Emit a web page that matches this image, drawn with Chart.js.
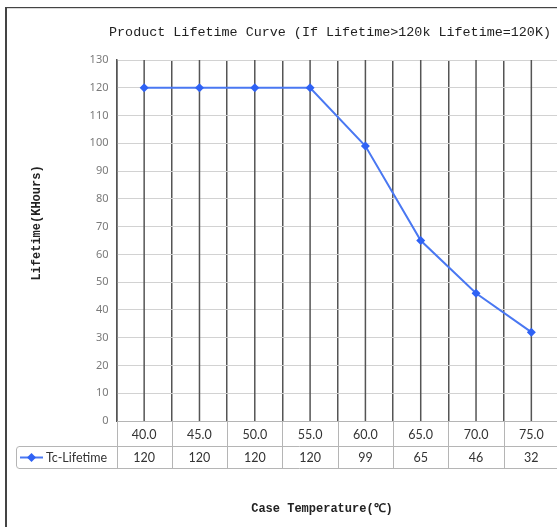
<!DOCTYPE html>
<html>
<head>
<meta charset="utf-8">
<script src="https://cdn.jsdelivr.net/npm/chart.js@4.4.1/dist/chart.umd.min.js"></script>
<style>
  html, body { margin: 0; padding: 0; overflow: hidden; background: #fff; }
  #wrap { position: relative; width: 580px; height: 527px; }
</style>
</head>
<body>
<div id="wrap"><canvas id="chart1" width="580" height="527"></canvas></div>
<script>
// data
var temps = ["40.0", "45.0", "50.0", "55.0", "60.0", "65.0", "70.0", "75.0"];
var lifetime = [120, 120, 120, 120, 99, 65, 46, 32];
var seriesName = "Tc-Lifetime";
var chartTitle = "Product Lifetime Curve (If Lifetime>120k Lifetime=120K)";
var xTitle = "Case Temperature(\u2103)";
var yTitle = "Lifetime(KHours)";

var lineColor = "#4a78f2";
var tableLine = "#b5b5b5";

// extra vertical lines at category centres, like the original sheet
var centreLines = {
  id: "centreLines",
  beforeDatasetsDraw: function(chart) {
    var ctx = chart.ctx, x = chart.scales.x, a = chart.chartArea;
    ctx.save();
    ctx.strokeStyle = "#555";
    ctx.lineWidth = 1.5;
    for (var i = 0; i < temps.length; i++) {
      var px = x.getPixelForValue(i);
      ctx.beginPath();
      ctx.moveTo(px, a.top);
      ctx.lineTo(px, a.bottom);
      ctx.stroke();
    }
    ctx.restore();
  }
};

// data table under the plot + frame + titles
var dataTable = {
  id: "dataTable",
  afterDraw: function(chart) {
    var ctx = chart.ctx, x = chart.scales.x, a = chart.chartArea;
    var r0 = a.bottom, r1 = r0 + 25, r2 = r1 + 22;
    var step = x.getPixelForValue(1) - x.getPixelForValue(0);
    var legLeft = 16;
    ctx.save();

    // table lines
    ctx.strokeStyle = tableLine;
    ctx.lineWidth = 1;
    for (var i = 0; i <= temps.length; i++) {
      var bx = Math.round(x.getPixelForValue(i) - step / 2) + 0.5;
      ctx.beginPath();
      ctx.moveTo(bx, r0);
      ctx.lineTo(bx, r2);
      ctx.stroke();
    }
    ctx.beginPath();
    ctx.moveTo(legLeft + 3, r1 + 0.5);
    ctx.lineTo(chart.width, r1 + 0.5);
    ctx.moveTo(legLeft + 3, r2 + 0.5);
    ctx.lineTo(chart.width, r2 + 0.5);
    ctx.moveTo(legLeft + 0.5, r1 + 3);
    ctx.lineTo(legLeft + 0.5, r2 - 2);
    ctx.stroke();
    ctx.beginPath();
    ctx.arc(legLeft + 3.5, r1 + 3.5, 3, Math.PI, 1.5 * Math.PI);
    ctx.stroke();
    ctx.beginPath();
    ctx.arc(legLeft + 3.5, r2 - 2.5, 3, 0.5 * Math.PI, Math.PI);
    ctx.stroke();

    // legend key
    var ly = (r1 + r2) / 2 + 0.5;
    ctx.strokeStyle = lineColor;
    ctx.lineWidth = 2;
    ctx.beginPath();
    ctx.moveTo(20, ly);
    ctx.lineTo(43, ly);
    ctx.stroke();
    ctx.fillStyle = "#2f62f5";
    ctx.beginPath();
    ctx.moveTo(31.5, ly - 4.5);
    ctx.lineTo(36, ly);
    ctx.lineTo(31.5, ly + 4.5);
    ctx.lineTo(27, ly);
    ctx.closePath();
    ctx.fill();

    ctx.fillStyle = "#333";
    ctx.font = "12.5px Lato";
    ctx.textBaseline = "middle";
    ctx.textAlign = "left";
    ctx.fillText(seriesName, 46, ly);
    ctx.textAlign = "center";
    for (var j = 0; j < lifetime.length; j++) {
      ctx.fillText(String(lifetime[j]), x.getPixelForValue(j), ly);
    }

    // outer frame
    ctx.fillStyle = "#444";
    ctx.fillRect(5, 7, 2, chart.height);
    ctx.fillRect(5, 7, chart.width, 1.2);

    // titles
    ctx.fillStyle = "#222";
    ctx.font = "13.4px 'Liberation Mono'";
    ctx.textAlign = "center";
    ctx.fillText(chartTitle, 330, 32);

    ctx.font = "bold 12px 'Liberation Mono'";
    ctx.fillText(xTitle, 322, 509);

    ctx.translate(37, 223);
    ctx.rotate(-Math.PI / 2);
    ctx.fillText(yTitle, 0, 0);
    ctx.restore();
  }
};

var chart1 = new Chart(document.getElementById("chart1"), {
  type: "line",
  data: {
    labels: temps,
    datasets: [{
      label: seriesName,
      data: lifetime,
      borderColor: lineColor,
      borderWidth: 2,
      backgroundColor: "#2f62f5",
      pointStyle: "rectRot",
      pointRadius: 4.5,
      pointBorderWidth: 0,
      tension: 0
    }]
  },
  options: {
    responsive: false,
    animation: false,
    layout: {
      padding: { top: 60, right: 21, bottom: 0, left: 0 }
    },
    plugins: {
      legend: { display: false },
      title: { display: false },
      tooltip: { enabled: false }
    },
    scales: {
      x: {
        offset: true,
        afterFit: function(s) { s.height = 106; },
        grid: { offset: true, color: "#555", lineWidth: 1.5, drawTicks: false },
        border: { color: tableLine, width: 1 },
        ticks: {
          autoSkip: false,
          maxRotation: 0,
          padding: 6,
          color: "#333",
          font: { family: "Lato", size: 12.5 }
        }
      },
      y: {
        min: 0,
        max: 130,
        afterFit: function(s) { s.width = 116.5; },
        grid: { color: "#d2d2d2", lineWidth: 1, drawTicks: false },
        border: { color: "#555", width: 1.5 },
        ticks: {
          stepSize: 10,
          padding: 8,
          color: "#7a7a7a",
          font: { family: "Noto Sans", size: 11 }
        }
      }
    }
  },
  plugins: [centreLines, dataTable]
});
</script>
</body>
</html>
